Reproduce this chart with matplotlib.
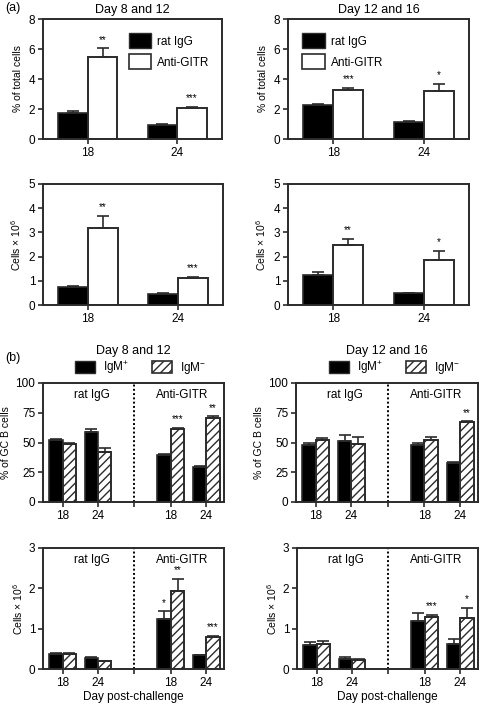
import matplotlib
matplotlib.use("Agg")
import matplotlib.pyplot as plt
from matplotlib.patches import Patch

plt.rcParams["font.family"] = ["Liberation Sans", "DejaVu Sans"]
plt.rcParams["mathtext.fontset"] = "custom"
plt.rcParams["mathtext.rm"] = "Liberation Sans"
plt.rcParams["mathtext.it"] = "Liberation Sans:italic"
plt.rcParams["hatch.linewidth"] = 1.0

EDGE = "#2b2b2b"

# ---- panel (a) ----
days_a = ["18", "24"]
a_titles = ["Day 8 and 12", "Day 12 and 16"]

pct_ratigg = [[1.75, 0.92], [2.28, 1.15]]
pct_ratigg_err = [[0.10, 0.05], [0.03, 0.07]]
pct_gitr = [[5.50, 2.05], [3.30, 3.20]]
pct_gitr_err = [[0.55, 0.08], [0.10, 0.48]]
pct_stars = [["**", "***"], ["***", "*"]]

cells_ratigg = [[0.73, 0.45], [1.25, 0.48]]
cells_ratigg_err = [[0.07, 0.04], [0.12, 0.02]]
cells_gitr = [[3.17, 1.12], [2.50, 1.87]]
cells_gitr_err = [[0.50, 0.04], [0.22, 0.37]]
cells_stars = [["**", "***"], ["**", "*"]]

# ---- panel (b) ----  order: ratIgG 18, ratIgG 24, anti-GITR 18, anti-GITR 24
days_b = ["18", "24", "", "18", "24"]
b_titles = ["Day 8 and 12", "Day 12 and 16"]

gc_igm_pos = [[52.0, 58.5, 39.5, 29.5], [48.0, 51.0, 47.5, 33.0]]
gc_igm_pos_err = [[1.0, 2.5, 0.8, 0.5], [2.0, 5.5, 2.5, 0.8]]
gc_igm_neg = [[48.5, 42.0, 61.0, 71.0], [52.0, 49.0, 52.5, 67.0]]
gc_igm_neg_err = [[1.2, 3.0, 1.2, 1.0], [1.8, 5.5, 2.5, 0.8]]
gc_stars_pos = [["", "", "", ""], ["", "", "", ""]]
gc_stars_neg = [["", "", "***", "**"], ["", "", "", "**"]]

bc_igm_pos = [[0.38, 0.27, 1.25, 0.34], [0.60, 0.26, 1.20, 0.62]]
bc_igm_pos_err = [[0.02, 0.02, 0.18, 0.0], [0.08, 0.03, 0.20, 0.12]]
bc_igm_neg = [[0.37, 0.19, 1.93, 0.79], [0.63, 0.23, 1.28, 1.27]]
bc_igm_neg_err = [[0.02, 0.02, 0.30, 0.03], [0.06, 0.01, 0.07, 0.25]]
bc_stars_pos = [["", "", "*", ""], ["", "", "", ""]]
bc_stars_neg = [["", "", "**", "***"], ["", "", "***", "*"]]

W, H = 480, 704


def add_axes(fig, x0, x1, y0, y1):
    return fig.add_axes([x0 / W, 1 - y1 / H, (x1 - x0) / W, (y1 - y0) / H])


def style(ax):
    for s in ax.spines.values():
        s.set_color(EDGE)
        s.set_linewidth(1.4)
    ax.tick_params(axis="both", direction="out", length=3.5, width=1.2,
                   color=EDGE, labelsize=8.5, pad=2)


def bars_pair(ax, pos, v1, e1, v2, e2, w, hatch2, stars1, stars2, smax):
    kw_err = dict(ecolor=EDGE, elinewidth=1.2, capsize=4, capthick=1.2)
    lo = [0] * len(v1)
    ax.bar(pos, v1, width=-w, align="edge", color="black", edgecolor=EDGE,
           linewidth=1.2, yerr=[lo, e1], error_kw=kw_err, zorder=2)
    ax.bar(pos, v2, width=w, align="edge", color="white", edgecolor=EDGE,
           linewidth=1.4, hatch=hatch2, yerr=[lo, e2], error_kw=kw_err, zorder=2)
    off = smax * 0.03
    for p, v, e, s in zip(pos, v1, e1, stars1):
        if s:
            ax.text(p - w / 2, v + e + off, s, ha="center", va="bottom", fontsize=7)
    for p, v, e, s in zip(pos, v2, e2, stars2):
        if s:
            ax.text(p + w / 2, v + e + off, s, ha="center", va="bottom", fontsize=7)


fig = plt.figure(figsize=(W / 100, H / 100), dpi=100)

# panel (a)
boxes_a = [[(43, 222, 19, 139), (288, 469, 19, 139)],
           [(43, 223, 184, 305), (288, 469, 184, 305)]]
pos_a = [0, 1]
for col in range(2):
    ax = add_axes(fig, *boxes_a[0][col])
    bars_pair(ax, pos_a, pct_ratigg[col], pct_ratigg_err[col], pct_gitr[col],
              pct_gitr_err[col], 0.33, None, ["", ""], pct_stars[col], 8)
    ax.set_xlim(-0.5, 1.5)
    ax.set_ylim(0, 8)
    ax.set_yticks([0, 2, 4, 6, 8])
    ax.set_xticks(pos_a)
    ax.set_xticklabels(days_a)
    ax.set_ylabel("% of total cells", fontsize=7.5, labelpad=4)
    ax.set_title(a_titles[col], fontsize=9, pad=4)
    style(ax)
    handles = [Patch(facecolor="black", edgecolor=EDGE, label="rat IgG"),
               Patch(facecolor="white", edgecolor=EDGE, linewidth=1.2, label="Anti-GITR")]
    ax.legend(handles=handles, loc="upper right" if col == 0 else "upper left",
              frameon=False, fontsize=8.5, handlelength=1.9, handleheight=1.6,
              handletextpad=0.5, labelspacing=0.5,
              bbox_to_anchor=(0.99, 0.97) if col == 0 else (0.02, 0.97))

    ax = add_axes(fig, *boxes_a[1][col])
    bars_pair(ax, pos_a, cells_ratigg[col], cells_ratigg_err[col], cells_gitr[col],
              cells_gitr_err[col], 0.33, None, ["", ""], cells_stars[col], 5)
    ax.set_xlim(-0.5, 1.5)
    ax.set_ylim(0, 5)
    ax.set_yticks([0, 1, 2, 3, 4, 5])
    ax.set_xticks(pos_a)
    ax.set_xticklabels(days_a)
    ax.set_ylabel("Cells \u00d7 10$^6$", fontsize=7.5, labelpad=4)
    style(ax)

# panel (b)
boxes_b = [[(43, 224, 383, 502), (296, 478, 383, 502)],
           [(43, 224, 548, 669), (297, 478, 548, 669)]]
pos_b = [0, 1, 3.05, 4.05]
tick_b = [0, 1, 2.02, 3.05, 4.05]
for col in range(2):
    for row, (v1, e1, v2, e2, s1, s2, ymax, yt, ylab) in enumerate([
        (gc_igm_pos, gc_igm_pos_err, gc_igm_neg, gc_igm_neg_err, gc_stars_pos,
         gc_stars_neg, 100, [0, 25, 50, 75, 100], "% of GC B cells"),
        (bc_igm_pos, bc_igm_pos_err, bc_igm_neg, bc_igm_neg_err, bc_stars_pos,
         bc_stars_neg, 3, [0, 1, 2, 3], "Cells \u00d7 10$^6$"),
    ]):
        ax = add_axes(fig, *boxes_b[row][col])
        bars_pair(ax, pos_b, v1[col], e1[col], v2[col], e2[col], 0.38, "////",
                  s1[col], s2[col], ymax)
        ax.axvline(2.02, color="black", linestyle=(0, (1, 1.2)), linewidth=1.4, zorder=1)
        ax.set_xlim(-0.55, 4.55)
        ax.set_ylim(0, ymax)
        ax.set_yticks(yt)
        ax.set_xticks(tick_b)
        ax.set_xticklabels(days_b)
        ax.set_ylabel(ylab, fontsize=7.5, labelpad=3)
        ax.text(0.27, 0.95, "rat IgG", transform=ax.transAxes, ha="center",
                va="top", fontsize=8.5)
        ax.text(0.77, 0.95, "Anti-GITR", transform=ax.transAxes, ha="center",
                va="top", fontsize=8.5)
        style(ax)
        if row == 1:
            ax.set_xlabel("Day post-challenge", fontsize=8.5, labelpad=2)
        else:
            ax.set_title(b_titles[col], fontsize=9, pad=21)
            handles = [Patch(facecolor="black", edgecolor=EDGE, label="IgM$^{+}$"),
                       Patch(facecolor="white", edgecolor=EDGE, hatch="////",
                             linewidth=1.2, label="IgM$^{-}$")]
            ax.legend(handles=handles, loc="lower center", ncol=2, frameon=False,
                      fontsize=8.5, handlelength=1.7, handleheight=1.3,
                      columnspacing=1.9, handletextpad=0.7,
                      bbox_to_anchor=(0.54, 0.97))

fig.text(5 / W, 1 - 8 / H, "(a)", fontsize=9, va="center")
fig.text(5 / W, 1 - 358 / H, "(b)", fontsize=9, va="center")

fig.savefig("out.png", dpi=100)
